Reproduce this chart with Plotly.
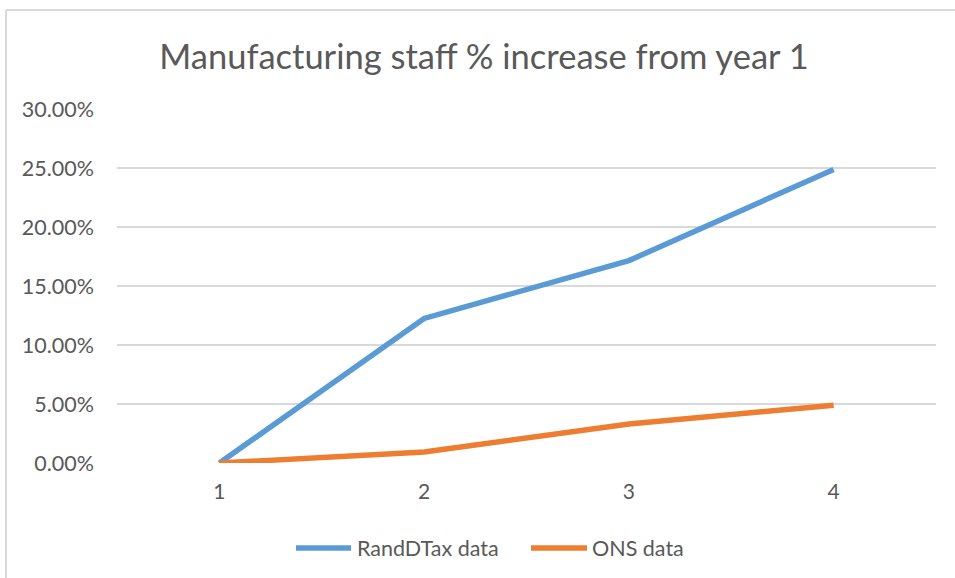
import plotly.graph_objects as go

# Year index and % increase in manufacturing staff relative to year 1
years = [1, 2, 3, 4]
randdtax_pct = [0.0, 12.25, 17.15, 24.88]
ons_pct = [0.0, 0.93, 3.3, 4.9]

series_names = ["RandDTax data", "ONS data"]
series_colors = ["#5b9bd5", "#ed7d31"]

y_ticks = [0, 5, 10, 15, 20, 25, 30]
y_tick_text = [f"{v:.2f}%" for v in y_ticks]

W, H = 955, 578
ML, MR, MT, MB = 117, 19, 109, 115
plot_w = W - ML - MR
plot_h = H - MT - MB

GREY_TEXT = "#595959"
GRID = "#d9d9d9"
FONT = "Lato, Calibri, sans-serif"


def px_x(px):
    return (px - ML) / plot_w


def px_y(py):
    return (H - MB - py) / plot_h


fig = go.Figure()
for name, vals, col in zip(series_names, [randdtax_pct, ons_pct], series_colors):
    fig.add_trace(go.Scatter(
        x=years, y=vals, mode="lines", name=name, showlegend=False,
        line=dict(color=col, width=5.5, shape="linear"),
    ))

# chart-area outline (top and left edges visible within the frame)
fig.add_shape(type="line", xref="paper", yref="paper",
              x0=px_x(6), x1=px_x(W + 5), y0=px_y(10), y1=px_y(10),
              line=dict(color=GRID, width=2))
fig.add_shape(type="line", xref="paper", yref="paper",
              x0=px_x(6), x1=px_x(6), y0=px_y(10), y1=px_y(H + 5),
              line=dict(color=GRID, width=2))

# legend: swatch line + label for each series
legend_items = [(296, 351, 355), (531, 587, 590)]
legend_y = 548
for (lx0, lx1, tx), name, col in zip(legend_items, series_names, series_colors):
    fig.add_shape(type="line", xref="paper", yref="paper",
                  x0=px_x(lx0), x1=px_x(lx1), y0=px_y(legend_y), y1=px_y(legend_y),
                  line=dict(color=col, width=5.5))
    fig.add_annotation(xref="paper", yref="paper", x=px_x(tx), y=px_y(legend_y),
                       xanchor="left", yanchor="middle", showarrow=False,
                       text=name, font=dict(size=21.5, color=GREY_TEXT, family=FONT))

fig.update_layout(
    width=W, height=H,
    margin=dict(l=ML, r=MR, t=MT, b=MB),
    paper_bgcolor="white", plot_bgcolor="white",
    font=dict(family=FONT, color=GREY_TEXT),
    title=dict(text="Manufacturing staff % increase from year 1",
               x=484 / W, xanchor="center",
               y=1 - 57 / H, yanchor="middle",
               font=dict(size=34.5, color=GREY_TEXT, family=FONT)),
    showlegend=False,
    xaxis=dict(range=[0.5, 4.5], tickmode="array", tickvals=years,
               ticktext=[str(v) for v in years], showgrid=False,
               zeroline=False, showline=False, ticks="",
               ticklabelstandoff=14,
               tickfont=dict(size=21, color=GREY_TEXT, family=FONT)),
    yaxis=dict(range=[0, 30], tickmode="array", tickvals=y_ticks,
               ticktext=y_tick_text, showgrid=True, gridcolor=GRID,
               gridwidth=2, zeroline=False, showline=False, ticks="",
               ticklabelstandoff=22,
               tickfont=dict(size=21.5, color=GREY_TEXT, family=FONT)),
)

fig.write_html("out.html")
